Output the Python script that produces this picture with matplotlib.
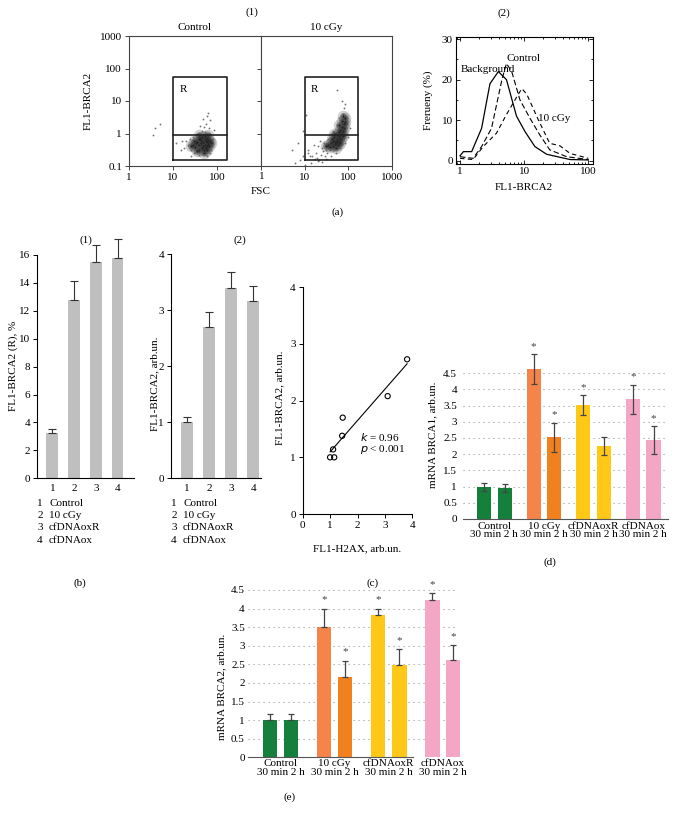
import numpy as np
import matplotlib
matplotlib.use("Agg")
import matplotlib.pyplot as plt
from matplotlib.ticker import FixedLocator, FixedFormatter, NullLocator, MultipleLocator

plt.rcParams['font.family'] = ['Liberation Serif', 'DejaVu Serif']
plt.rcParams['font.size'] = 8
plt.rcParams['axes.linewidth'] = 0.8

# ---------------- DATA ----------------
# (a)(1) flow cytometry: approximate point clouds (FSC, FL1-BRCA2)
ctrl_core_fsc = [28, 32, 36, 40, 44, 48, 52, 56, 60, 64, 68, 30, 35, 40, 45, 50, 55, 60, 65,
                 33, 38, 43, 48, 53, 58, 63, 40, 46, 52, 58, 25, 72, 50, 42, 62]
ctrl_core_fl1 = [0.45, 0.38, 0.55, 0.3, 0.62, 0.42, 0.7, 0.35, 0.55, 0.48, 0.6, 0.6, 0.28, 0.45, 0.8, 0.3, 0.6, 0.75, 0.4,
                 0.5, 0.68, 0.52, 0.55, 0.45, 0.4, 0.62, 0.9, 0.35, 0.85, 0.3, 0.4, 0.5, 0.25, 0.72, 0.9]
ctrl_halo_fsc = [20, 25, 22, 28, 30, 18, 70, 65, 55, 58, 62, 75, 80, 35, 45, 50, 15, 12, 25, 40,
                 70, 5, 4, 3.5, 24, 33, 68, 72, 48, 53, 27, 16, 85, 60, 42]
ctrl_halo_fl1 = [0.6, 0.3, 0.45, 0.8, 0.25, 0.35, 1.0, 1.5, 2.0, 3.5, 4.2, 0.4, 0.7, 1.0, 1.2, 1.6, 0.3, 0.5, 0.2, 0.22,
                 0.25, 2.0, 1.5, 0.9, 0.7, 0.9, 2.6, 0.3, 2.8, 1.1, 0.4, 0.6, 1.3, 0.2, 1.7]
irr_core_fsc = [35, 40, 45, 50, 55, 60, 65, 70, 75, 80, 38, 44, 50, 56, 62, 68, 74, 42, 48, 54, 60, 66, 72, 78,
                30, 52, 58, 64, 70, 85, 46, 62, 76, 82, 56]
irr_core_fl1 = [0.45, 0.5, 0.6, 0.55, 0.7, 0.8, 0.9, 1.0, 1.2, 1.5, 0.38, 0.42, 0.48, 0.52, 0.6, 0.7, 0.85,
                0.7, 0.8, 0.9, 1.1, 1.3, 1.6, 2.0, 0.4, 0.35, 0.45, 0.5, 2.5, 3.0, 1.0, 1.8, 3.5, 2.2, 0.6]
irr_halo_fsc = [12, 15, 18, 20, 25, 30, 28, 22, 8, 6, 10, 14, 20, 25, 30, 40, 35, 45, 55, 60,
                75, 80, 85, 70, 55, 90, 100, 85, 95, 5, 7, 9, 11, 16, 19, 24, 33, 38, 13, 17,
                26, 45, 65, 110, 9, 12, 21, 29, 36, 52]
irr_halo_fl1 = [0.3, 0.2, 0.25, 0.4, 0.35, 0.3, 0.5, 0.6, 0.15, 0.12, 0.11, 0.12, 0.14, 0.13, 0.17, 0.2, 0.7, 1.2, 1.8, 3.0,
                4.0, 6.0, 8.0, 10.0, 22.0, 1.0, 0.8, 0.5, 2.0, 0.3, 0.5, 1.2, 3.8, 0.45, 0.18, 0.22, 0.25, 0.3, 0.2, 0.16,
                0.28, 0.3, 0.35, 1.5, 0.2, 0.25, 0.15, 0.2, 0.45, 0.25]
gate_fsc = [10, 168]
gate_fl1 = [0.15, 56]
gate_split = 0.88

# (a)(2) histograms
bg_x = [1, 1.13, 1.52, 2.17, 2.93, 3.96, 5.3, 7.6, 10.3, 14.7, 22.4, 52, 100]
bg_y = [1.2, 2.25, 2.25, 8, 19, 22, 20, 11, 7.2, 3.5, 1.6, 0.3, 0.2]
ctl_x = [1, 1.6, 2.17, 3.1, 4.5, 5.3, 6.4, 8.6, 12.3, 17.5, 25, 46, 100]
ctl_y = [1, 0.6, 3.5, 8, 20, 24, 22, 15, 10.5, 6.4, 2.7, 1, 0.3]
irr_x = [1, 1.6, 2.3, 3.7, 5.3, 8.1, 9.2, 11, 16.5, 25, 36, 52, 100]
irr_y = [0.6, 0.3, 3.5, 6.8, 11.4, 16.4, 17.8, 16.4, 10.2, 4.3, 3.7, 1.8, 0.6]

# (b)
b_groups = ['1', '2', '3', '4']
b_names = ['Control', '10 cGy', 'cfDNAoxR', 'cfDNAox']
b1_vals = [3.25, 12.75, 15.5, 15.8]
b1_err = [0.3, 1.35, 1.2, 1.35]
b2_vals = [1.0, 2.7, 3.4, 3.17]
b2_err = [0.1, 0.27, 0.28, 0.26]

# (c)
c_x = [1.0, 1.15, 1.11, 1.44, 1.46, 3.10, 3.81]
c_y = [1.0, 1.0, 1.14, 1.38, 1.70, 2.08, 2.73]

# (d), (e)
groups = ['Control', '10 cGy', 'cfDNAoxR', 'cfDNAox']
time_label = '30 min 2 h'
d_30 = [0.98, 4.62, 3.52, 3.70]
d_30_err = [0.13, 0.46, 0.30, 0.45]
d_2h = [0.96, 2.52, 2.25, 2.44]
d_2h_err = [0.13, 0.45, 0.29, 0.43]
d_sig_30 = [False, True, True, True]
d_sig_2h = [False, True, False, True]
e_30 = [1.01, 3.49, 3.83, 4.23]
e_30_err = [0.15, 0.51, 0.17, 0.18]
e_2h = [0.99, 2.15, 2.48, 2.62]
e_2h_err = [0.17, 0.44, 0.42, 0.39]
e_sig_30 = [False, True, True, True]
e_sig_2h = [False, True, True, True]
col_30 = ['#14803c', '#f5844a', '#ffc817', '#f4a7c5']
col_2h = ['#14803c', '#f1801f', '#ffc817', '#f4a7c5']

# ---------------- FIGURE ----------------
W, H = 682, 819
fig = plt.figure(figsize=(W / 100, H / 100), dpi=100)


def rect(x0, y0, x1, y1):
    return [x0 / W, 1 - y1 / H, (x1 - x0) / W, (y1 - y0) / H]


def ftext(x, y, s, **kw):
    kw.setdefault('ha', 'center')
    kw.setdefault('va', 'center')
    fig.text(x / W, 1 - y / H, s, **kw)


# ---- (a)(1) ----
spine_col = '#444444'
clouds = [(ctrl_core_fsc, ctrl_core_fl1, ctrl_halo_fsc, ctrl_halo_fl1),
          (irr_core_fsc, irr_core_fl1, irr_halo_fsc, irr_halo_fl1)]
for i, (x0, x1) in enumerate([(129, 261), (261, 392)]):
    ax = fig.add_axes(rect(x0, 36, x1, 166))
    ax.set_xscale('log')
    ax.set_yscale('log')
    cf, cy, hf, hy = clouds[i]
    ax.scatter(hf, hy, s=1.8, color='#777777', linewidths=0)
    ax.scatter(cf, cy, s=70, color='#6a6a6a', alpha=0.3, linewidths=0)
    ax.scatter(cf, cy, s=22, color='#3a3a3a', alpha=0.45, linewidths=0)
    ax.scatter(cf, cy, s=2.5, color='#222222', linewidths=0)
    gx = [gate_fsc[0], gate_fsc[1], gate_fsc[1], gate_fsc[0], gate_fsc[0]]
    gy = [gate_fl1[0], gate_fl1[0], gate_fl1[1], gate_fl1[1], gate_fl1[0]]
    ax.plot(gx, gy, color='#222222', lw=1.2)
    ax.plot(gate_fsc, [gate_split, gate_split], color='#222222', lw=1.2)
    ax.text(17, 22, 'R', ha='center', va='center', fontsize=8)
    for s in ax.spines.values():
        s.set_color(spine_col)
    ax.yaxis.set_major_locator(FixedLocator([0.1, 1, 10, 100, 1000]))
    ax.yaxis.set_minor_locator(NullLocator())
    ax.xaxis.set_minor_locator(NullLocator())
    if i == 0:
        ax.xaxis.set_major_locator(FixedLocator([1, 10, 100]))
        ax.xaxis.set_major_formatter(FixedFormatter(['1', '10', '100']))
        ax.yaxis.set_major_formatter(FixedFormatter(['0.1', '1', '10', '100', '1000']))
    else:
        ax.xaxis.set_major_locator(FixedLocator([1, 10, 100, 1000]))
        ax.xaxis.set_major_formatter(FixedFormatter(['', '10', '100', '1000']))
        ax.tick_params(axis='y', labelleft=False)
    ax.set_xlim(1, 1000)
    ax.set_ylim(0.1, 1000)
    ax.tick_params(length=3, width=0.7, color=spine_col, pad=2, labelsize=8)

ftext(261.5, 176.5, '1', zorder=10)
ftext(252, 12, '(1)')
ftext(195, 28, 'Control')
ftext(326, 28, '10 cGy')
ftext(261, 192, 'FSC')
ftext(88, 101, 'FL1-BRCA2', rotation=90)
ftext(338, 212, '(a)')

# ---- (a)(2) ----
ax = fig.add_axes(rect(455.7, 36.7, 592.7, 164))
ax.set_xscale('log')
ax.set_xlim(0.857, 117)
ax.set_ylim(-0.8, 30.6)
ax.plot(bg_x, bg_y, color='black', lw=0.9)
ax.plot(ctl_x, ctl_y, color='black', lw=0.8, ls=(0, (5, 2.5)))
ax.plot(irr_x, irr_y, color='black', lw=0.8, ls=(0, (4, 3)))
ax.text(1.02, 22.6, 'Background', ha='left', va='center', fontsize=8)
ax.text(5.4, 25.2, 'Control', ha='left', va='center', fontsize=8)
ax.text(16.5, 10.3, '10 cGy', ha='left', va='center', fontsize=8)
ax.yaxis.set_major_locator(FixedLocator([0, 10, 20, 30]))
ax.yaxis.set_minor_locator(MultipleLocator(5))
ax.xaxis.set_major_locator(FixedLocator([1, 10, 100]))
ax.xaxis.set_major_formatter(FixedFormatter(['1', '10', '100']))
ax.tick_params(which='both', direction='in', top=True, right=True, width=0.6, labelsize=8, pad=2)
ax.tick_params(which='major', length=3)
ax.tick_params(which='minor', length=1.5)
ftext(504, 13, '(2)')
ftext(524, 188, 'FL1-BRCA2')
ftext(428, 100, 'Frerueny (%)', rotation=90)

# ---- (b) ----
bar_grey = '#bfbfbf'
pos = np.arange(1, len(b_groups) + 1)
for (x0, x1, ytop, vals, errs, ymax, ytks, ylab, ylx, yly, lx, title_x) in [
        (37.3, 134.3, 236.8, b1_vals, b1_err, 17.3, [0, 2, 4, 6, 8, 10, 12, 14, 16], 'FL1-BRCA2 (R), %', 13, 366, 40, 86),
        (171, 260.7, 254.3, b2_vals, b2_err, 4.0, [0, 1, 2, 3, 4], 'FL1-BRCA2, arb.un.', 155, 384, 174, 240)]:
    ax = fig.add_axes(rect(x0, ytop, x1, 478.3))
    right = 4.77 if ymax > 10 else 4.34
    ax.set_xlim(0.31 if ymax > 10 else 0.29, right)
    ax.set_ylim(0, ymax)
    ax.bar(pos, vals, width=0.54, color=bar_grey)
    ax.errorbar(pos, vals, yerr=[np.zeros(len(vals)), errs], fmt='none', ecolor='#333333',
                elinewidth=0.8, capsize=3, capthick=0.8)
    ax.spines['top'].set_visible(False)
    ax.spines['right'].set_visible(False)
    ax.spines['left'].set_bounds(0, ytks[-1])
    ax.set_yticks(ytks)
    ax.set_xticks(pos, b_groups)
    ax.tick_params(axis='y', length=3, width=0.7, pad=2, labelsize=8)
    ax.tick_params(axis='x', length=0, pad=4, labelsize=8)
    ftext(ylx, yly, ylab, rotation=90)
    for k, (g, n) in enumerate(zip(b_groups, b_names)):
        ftext(lx, 503 + 12.4 * k, g, ha='center')
        ftext(lx + 9, 503 + 12.4 * k, n, ha='left')
    ftext(title_x, 240, '(1)' if ymax > 10 else '(2)')
ftext(80, 583, '(b)')

# ---- (c) ----
ax = fig.add_axes(rect(302.7, 287.3, 412.3, 514))
ax.set_xlim(0, 4)
ax.set_ylim(0, 4)
ax.scatter(c_x, c_y, s=14, facecolors='none', edgecolors='black', linewidths=0.8, zorder=3)
coef = np.polyfit(c_x, c_y, 1)
lx = np.array([min(c_x), max(c_x)])
ax.plot(lx, np.polyval(coef, lx), color='black', lw=0.8)
ax.text(2.1, 1.36, r'$k$ = 0.96', ha='left', va='center', fontsize=8)
ax.text(2.1, 1.13, r'$p$ < 0.001', ha='left', va='center', fontsize=8)
ax.spines['top'].set_visible(False)
ax.spines['right'].set_visible(False)
ax.set_xticks([0, 1, 2, 3, 4])
ax.set_yticks([0, 1, 2, 3, 4])
ax.tick_params(length=3, width=0.7, pad=2, labelsize=8)
ftext(357.5, 549, 'FL1-H2AX, arb.un.')
ftext(280, 398, 'FL1-BRCA2, arb.un.', rotation=90)
ftext(373, 583, '(c)')


# ---- (d), (e) ----
def mrna_panel(r, gsp, xlim, ymax, v30, e30, v2h, e2h, s30, s2h, two_sided, ypad, xpad, spine_end, grid_end):
    ax = fig.add_axes(r)
    gpos = np.arange(len(groups)) * gsp
    ax.set_xlim(*xlim)
    ax.set_ylim(0, ymax)
    yt = np.arange(0, 4.51, 0.5)
    for y in yt[1:]:
        ax.plot([xlim[0], grid_end], [y, y], color='#9a9a9a', lw=0.8, ls=(0, (1, 3.5)), zorder=0)
    ax.bar(gpos, v30, width=0.69, color=col_30, zorder=2)
    ax.bar(gpos + 1, v2h, width=0.69, color=col_2h, zorder=2)
    for xs, v, e, sig in [(gpos, v30, e30, s30), (gpos + 1, v2h, e2h, s2h)]:
        lower = e if two_sided else np.zeros(len(e))
        ax.errorbar(xs, v, yerr=[lower, e], fmt='none', ecolor='#444444', elinewidth=0.9,
                    capsize=2.5, capthick=0.9, zorder=3)
        for xi, vi, ei, si in zip(xs, v, e, sig):
            if si:
                ax.text(xi, vi + ei + 0.24, '*', ha='center', va='center', fontsize=8, color='#444444')
    for s in ['top', 'right', 'left']:
        ax.spines[s].set_visible(False)
    ax.spines['bottom'].set_color('#555555')
    ax.spines['bottom'].set_bounds(xlim[0], spine_end)
    ax.set_yticks(yt, ['0', '0.5', '1', '1.5', '2', '2.5', '3', '3.5', '4', '4.5'])
    ax.tick_params(axis='y', length=0, pad=ypad, labelsize=8)
    ax.set_xticks(gpos + 0.5, [g + '\n' + time_label for g in groups], linespacing=0.95)
    ax.tick_params(axis='x', length=0, pad=xpad, labelsize=8)
    return ax


mrna_panel(rect(463.3, 342.4, 667.7, 519), 2.4, (-1, 8.88), 5.45,
           d_30, d_30_err, d_2h, d_2h_err, d_sig_30, d_sig_2h, True, 4.5, 2, 8.88, 8.88)
ftext(433, 435, 'mRNA BRCA1, arb.un.', rotation=90)
ftext(550, 562, '(d)')

mrna_panel(rect(248.3, 580.6, 460.5, 757.3), 2.57, (-1.03, 9.05), 4.75,
           e_30, e_30_err, e_2h, e_2h_err, e_sig_30, e_sig_2h, False, 2.5, 1.5, 6.8, 8.88)
ftext(222, 687, 'mRNA BRCA2, arb.un.', rotation=90)
ftext(290, 797, '(e)')

fig.savefig('out.png', dpi=100)
